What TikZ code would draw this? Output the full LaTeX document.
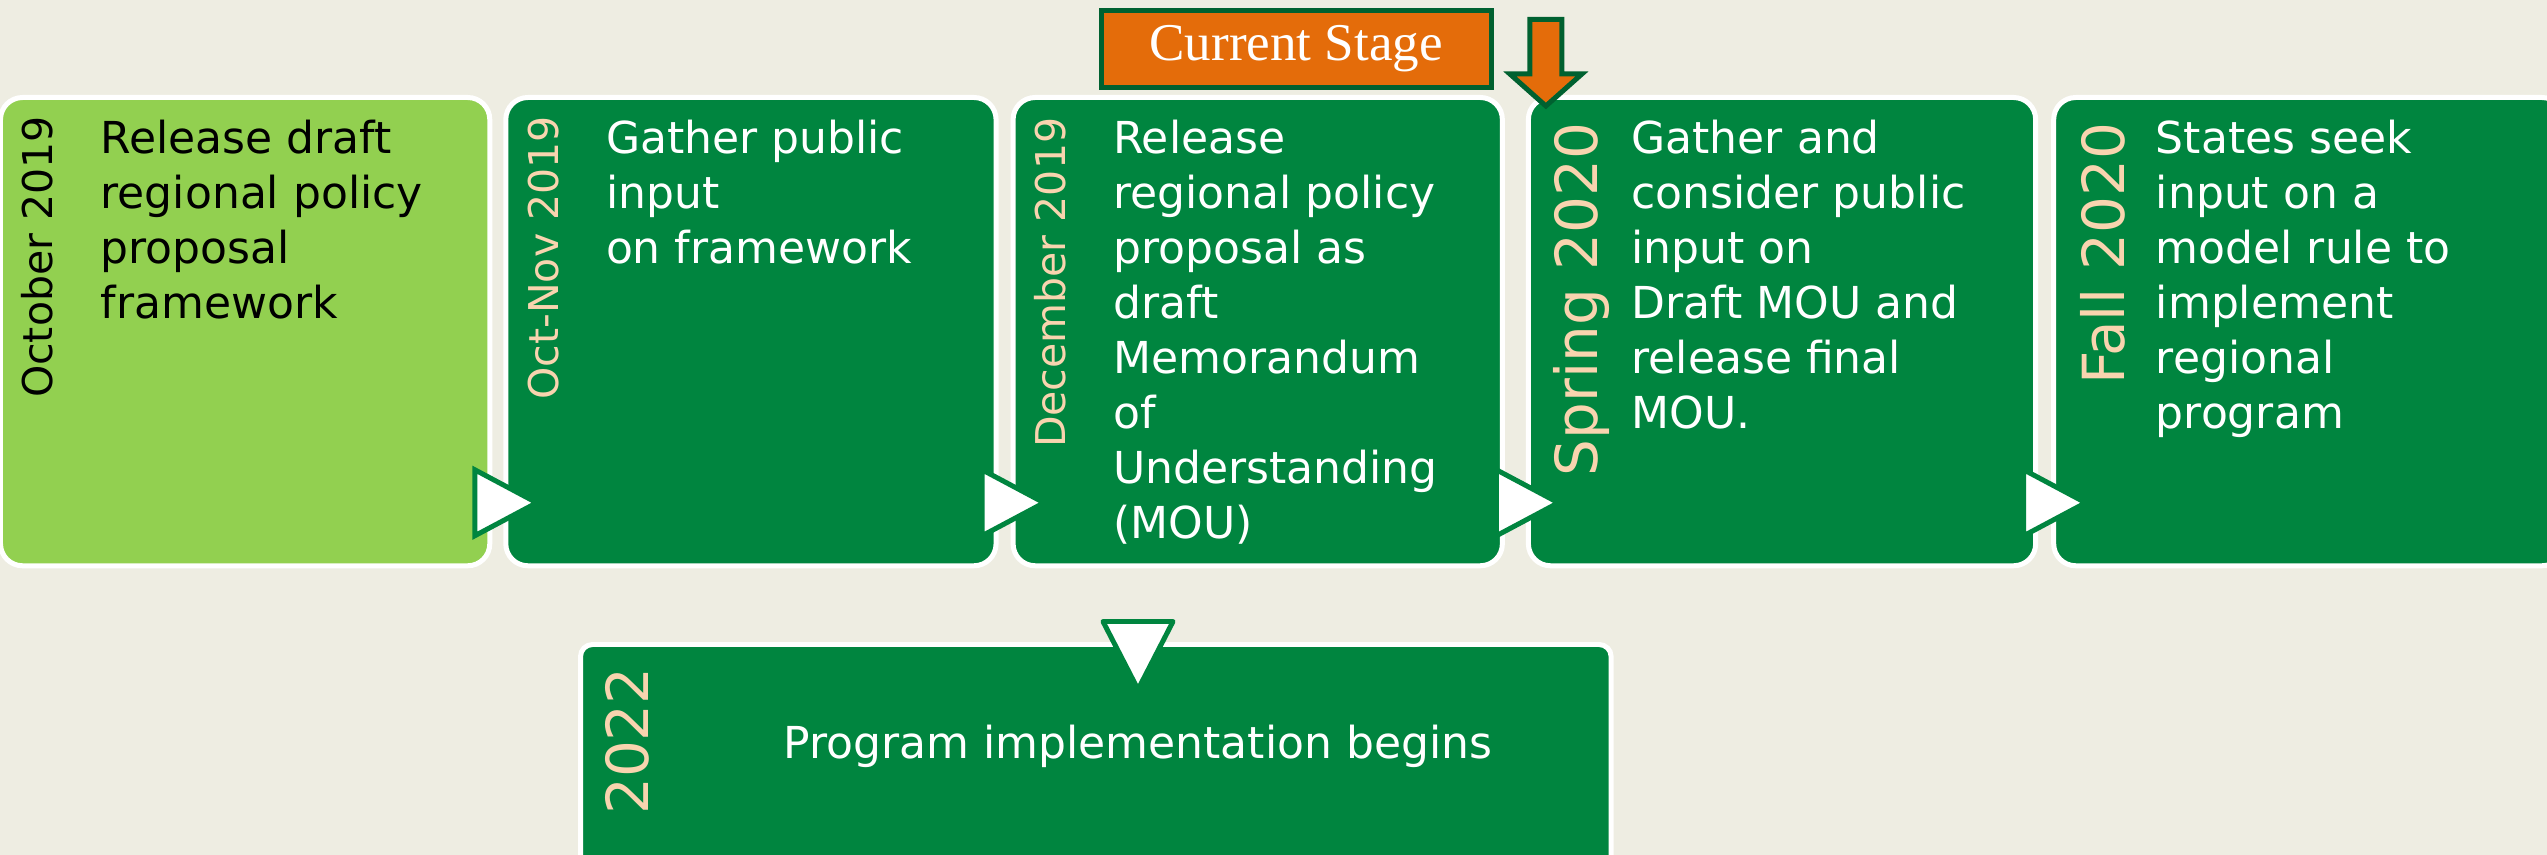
\documentclass[tikz,border=0pt]{standalone}
\usepackage{fontspec}
\setmainfont{DejaVu Sans}
\newfontfamily\stagefont{Liberation Serif}
\usepackage{tikz}
\usetikzlibrary{positioning,calc}
\definecolor{tlbg}{RGB}{238,237,226}
\definecolor{tllime}{RGB}{146,208,80}
\definecolor{tlgreen}{RGB}{0,133,63}
\definecolor{tldark}{RGB}{0,97,48}
\definecolor{tlpeach}{RGB}{248,212,175}
\definecolor{tlorange}{RGB}{228,108,10}
\tikzstyle{stagebox} = [rectangle, rounded corners=0.22cm, minimum height=4.68cm, draw=white, line width=1.42pt, fill=tlgreen, outer sep=0pt, inner sep=0pt]
\tikzstyle{datelabel} = [rotate=90, anchor=base east, inner sep=0pt, text=tlpeach, font=\fontsize{11.67}{14}\selectfont]
\tikzstyle{bigdate} = [datelabel, font=\fontsize{16.5}{19}\selectfont]
\tikzstyle{stagetext} = [anchor=north west, inner sep=0pt, align=left, text=white, font=\fontsize{12.52}{15.65}\selectfont]
\tikzstyle{flowtri} = [fill=white, draw=tlgreen, line width=1.42pt]

\begin{document}
\begin{tikzpicture}[x=0.01cm, y=-0.01cm]
\useasboundingbox (0,0) rectangle (2547,855);
\clip (0,0) rectangle (2547,855);
\fill[tlbg] (0,0) rectangle (2547,855);

% Timeline stages
\node (oct) [stagebox, fill=tllime, minimum width=4.89cm, anchor=north west] at (0.5,97.5) {};
\node (octnov) [stagebox, minimum width=4.90cm, right=0.16cm of oct] {};
\node (dec) [stagebox, minimum width=4.89cm, right=0.17cm of octnov] {};
\node (spring) [stagebox, minimum width=5.07cm, right=0.26cm of dec] {};
\node (fall) [stagebox, minimum width=5.10cm, right=0.18cm of spring] {};
\node (impl) [stagebox, rounded corners=0.12cm, minimum width=10.30cm, minimum height=3cm, anchor=north west] at (580.5,644.5) {};

% Dates
\node (octdate) [datelabel, text=black] at ($(oct.north west)+(52,18)$) {October 2019};
\node (octnovdate) [datelabel] at ($(octnov.north west)+(53,18)$) {Oct-Nov 2019};
\node (decdate) [datelabel] at ($(dec.north west)+(52.5,19.5)$) {December 2019};
\node (springdate) [bigdate] at ($(spring.north west)+(69,24.5)$) {Spring 2020};
\node (falldate) [bigdate] at ($(fall.north west)+(71,24.5)$) {Fall 2020};
\node (impldate) [bigdate, anchor=base] at ($(impl.north west)+(67.5,96.5)$) {2022};

% Stage texts
\node (octtext) [stagetext, text=black] at ($(oct.north west)+(99.5,22)$) {Release draft\\regional policy\\proposal\\framework};
\node (octnovtext) [stagetext] at ($(octnov.north west)+(99.5,22)$) {Gather public\\input\\on framework};
\node (dectext) [stagetext] at ($(dec.north west)+(99.5,22)$) {Release\\regional policy\\proposal as\\draft\\Memorandum\\of\\Understanding\\(MOU)};
\node (springtext) [stagetext] at ($(spring.north west)+(102.5,22)$) {Gather and\\consider public\\input on\\Draft MOU and\\release final\\MOU.};
\node (falltext) [stagetext] at ($(fall.north west)+(101.5,22)$) {States seek\\input on a\\model rule to\\implement\\regional\\program};
\node (impltext) [stagetext, anchor=base] at ($(impl.north west)+(557.5,114.5)$) {Program implementation begins};

% Flow triangles
\draw[flowtri] ($(octnov.south west)+(31,-63)$) -- ++(-62,-33) -- ++(0,66) -- cycle;
\draw[flowtri] ($(dec.south west)+(31,-63)$) -- ++(-62,-33) -- ++(0,66) -- cycle;
\draw[flowtri] ($(spring.south west)+(30,-63)$) -- ++(-62,-33) -- ++(0,66) -- cycle;
\draw[flowtri] ($(fall.south west)+(32,-63)$) -- ++(-62,-33) -- ++(0,66) -- cycle;
\draw[flowtri, line join=round] ($(impl.north west)+(557.5,45)$) -- ++(-35,-68) -- ++(70,0) -- cycle;

% Current stage marker
\node (current) [rectangle, fill=tlorange, draw=tldark, line width=1.42pt, minimum width=3.90cm, minimum height=0.76cm, inner sep=0pt, text=white, font=\stagefont\fontsize{15.1}{18}\selectfont, anchor=north west] at (1098.5,8.5) {Current Stage};
\draw[fill=tlorange, draw=tldark, line width=1.42pt] ($(spring.north west)+(17.5,8.5)$) -- ++(-36,-32) -- ++(20,0) -- ++(0,-54.5) -- ++(32,0) -- ++(0,54.5) -- ++(20,0) -- cycle;
\end{tikzpicture}
\end{document}
